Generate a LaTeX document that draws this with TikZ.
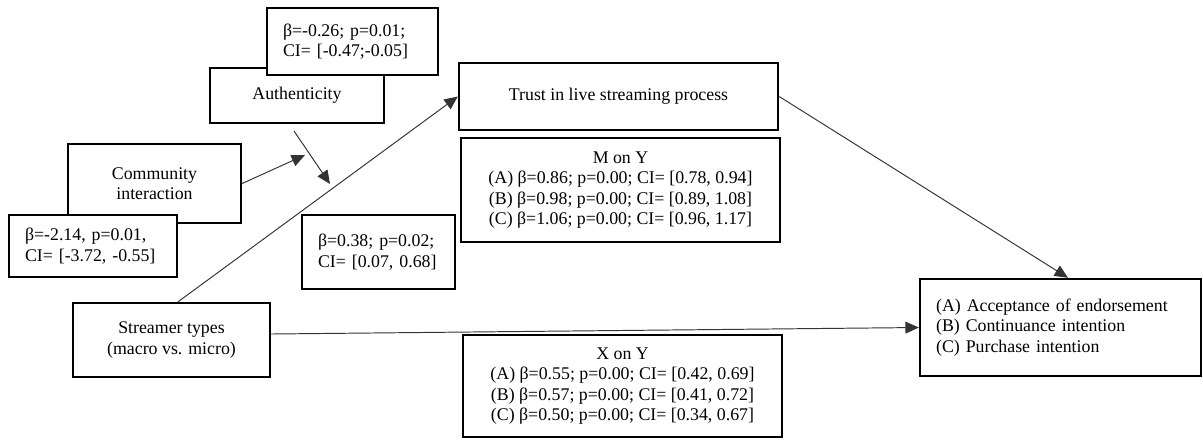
\documentclass[tikz,border=0pt]{standalone}
\usepackage{fontspec}
\setmainfont{Liberation Serif}
\usetikzlibrary{arrows.meta,calc}
\begin{document}
\begin{tikzpicture}[x=0.673pt,y=-0.673pt,
  box/.style={draw,line width=1.6pt,fill=white,inner sep=0pt,align=center,
    font=\fontsize{12}{13.6}\selectfont},
  leftbox/.style={box,align=left,inner xsep=10.8pt},
  conn/.style={line width=0.65pt,draw=black!80,-{Triangle[length=9pt,width=8pt]}}]
\useasboundingbox (0,0) rectangle (1203,439);

% moderators with their coefficients
\node[box,minimum width=117.1pt,minimum height=37pt] (auth) at (297,95.5) {Authenticity};
\node[leftbox,text width=93.5pt,minimum height=45.1pt] (ciA) at (352.5,41.5)
  {β=-0.26; p=0.01;\\CI= [-0.47;-0.05]};
\node[box,minimum width=116.4pt,minimum height=53.2pt] (comm) at (154.5,183.5) {Community\\interaction};
\node[leftbox,text width=91.5pt,minimum height=41.7pt] (ciC) at (93,246)
  {β=-2.14, p=0.01,\\CI= [-3.72, -0.55]};
\node[leftbox,text width=81.4pt,minimum height=49.8pt] (ciT) at (378.5,252)
  {β=0.38; p=0.02;\\CI= [0.07, 0.68]};

% predictor, mediator and outcomes
\node[box,minimum width=132.6pt,minimum height=49.8pt] (streamer) at (171.5,340) {Streamer types\\(macro vs. micro)};
\node[box,minimum width=214.7pt,minimum height=45.1pt] (trust) at (618.5,96.5) {Trust in live streaming process};
\node[box,minimum width=214.7pt,minimum height=70pt] (mony) at (620.5,190)
  {M on Y\\(A) β=0.86; p=0.00; CI= [0.78, 0.94]\\(B) β=0.98; p=0.00; CI= [0.89, 1.08]\\(C) β=1.06; p=0.00; CI= [0.96, 1.17]};
\node[box,minimum width=214.7pt,minimum height=68.6pt] (xony) at (622.5,386)
  {X on Y\\(A) β=0.55; p=0.00; CI= [0.42, 0.69]\\(B) β=0.57; p=0.00; CI= [0.41, 0.72]\\(C) β=0.50; p=0.00; CI= [0.34, 0.67]};
\node[leftbox,text width=167.5pt,minimum height=65.3pt] (out) at (1060.5,327.5)
  {(A) Acceptance of endorsement\\(B) Continuance intention\\(C) Purchase intention};

% free ends of the moderation arrows
\coordinate (commtip) at (305,155);
\coordinate (authtail) at (294,131);
\coordinate (authtip) at (330,184);

% paths
\draw[conn] ($(streamer.north)+(6.5,0)$) -- (trust.west);
\draw[conn] (trust.east) -- ($(out.north)+(7.5,0)$);
\draw[conn] ($(streamer.east)+(0,-6)$) -- (out.west);
\draw[conn] (comm.east) -- (commtip);
\draw[conn] (authtail) -- (authtip);
\end{tikzpicture}
\end{document}
